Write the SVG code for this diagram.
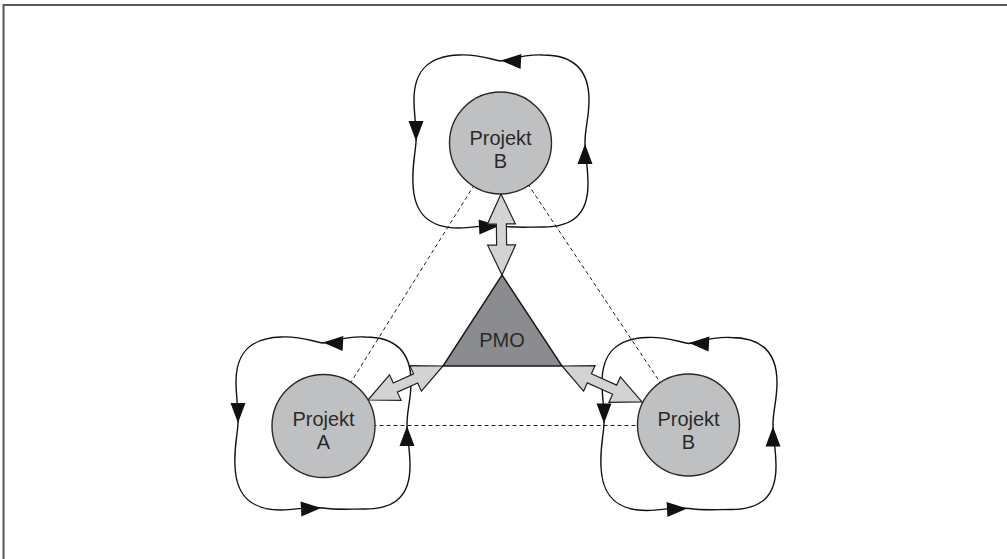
<svg xmlns="http://www.w3.org/2000/svg" xmlns:xlink="http://www.w3.org/1999/xlink" width="1007" height="559" viewBox="0 0 1007 559">
<style>
.loop{fill:none;stroke:#111;stroke-width:1.4}
.ah{fill:#111;stroke:none}
.dash{fill:none;stroke:#222;stroke-width:1;stroke-dasharray:4 3}
.blk{fill:#d2d3d5;stroke:#222;stroke-width:1.2;stroke-linejoin:miter}
.circ{fill:#bfc0c2;stroke:#2a2a2a;stroke-width:1.4}
.tri{fill:#8b8c8f;stroke:#1a1a1a;stroke-width:1.5;stroke-linejoin:miter}
.lbl{font-family:"Liberation Sans",Arial,sans-serif;font-size:20px;fill:#2a2a2a;text-anchor:middle}
</style>
<defs>
<path id="loop" class="loop" d="M0,-81 C-12,-83 -22,-88 -42,-87 C-72,-86 -87,-72 -87,-42 C-87,-26 -84,-12 -85,0 C-86,14 -89,24 -88,42 C-87,72 -72,86 -42,86 C-26,86 -14,82 0,84 C14,86 26,85 42,85 C72,85 87,72 87,42 C87,24 84,14 84,0 C84,-14 88,-24 88,-42 C88,-72 72,-87 42,-87 C22,-88 12,-83 0,-81 Z"/>
<path id="ah" class="ah" d="M0,0 L-20,-7.5 L-20,7.5 Z"/>
<g id="loopset">
<use xlink:href="#loop"/>
<use xlink:href="#ah" transform="translate(0,-81.5) rotate(183)"/>
<use xlink:href="#ah" transform="translate(-85,-1) rotate(90)"/>
<use xlink:href="#ah" transform="translate(-2,84) rotate(-3)"/>
<use xlink:href="#ah" transform="translate(84,2) rotate(-90)"/>
</g>
</defs>
<g id="frame">
<line x1="3" y1="5" x2="1007" y2="5" stroke="#222" stroke-width="1.5"/>
<line x1="3.5" y1="4.3" x2="3.5" y2="559" stroke="#555" stroke-width="2"/>
</g>
<g id="connectors">
<line class="dash" x1="500.5" y1="143" x2="323.5" y2="426"/>
<line class="dash" x1="500.5" y1="143" x2="688.5" y2="425"/>
<line class="dash" x1="323.5" y1="425.5" x2="688.5" y2="425.5"/>
<g id="loops">
<use xlink:href="#loopset" transform="translate(501,142)"/>
<use xlink:href="#loopset" transform="translate(323,424)"/>
<use xlink:href="#loopset" transform="translate(689,424.5)"/>
</g>
<g id="block-arrows">
<polygon class="blk" transform="translate(501,194) rotate(89.3)" points="0,0 30,-14 30,-5 51,-5 51,-14 81,0 51,14 51,5 30,5 30,14"/>
<polygon class="blk" transform="translate(368,400) rotate(-24.4)" points="0,0 30,-14 30,-5 52.3,-5 52.3,-14 82.3,0 52.3,14 52.3,5 30,5 30,14"/>
<polygon class="blk" transform="translate(562,366) rotate(24.2)" points="0,0 30,-14 30,-5 57.7,-5 57.7,-14 87.7,0 57.7,14 57.7,5 30,5 30,14"/>
</g>
</g>
<g id="pmo">
<polygon class="tri" points="502,275 562,366 443,366"/>
<text class="lbl" x="502" y="347">PMO</text>
</g>
<g id="projekt-b-top">
<circle class="circ" cx="500.5" cy="143" r="51"/>
<text class="lbl" x="500.5" y="145">Projekt</text>
<text class="lbl" x="500.5" y="168">B</text>
</g>
<g id="projekt-a">
<circle class="circ" cx="323.5" cy="426" r="51.5"/>
<text class="lbl" x="323.5" y="426">Projekt</text>
<text class="lbl" x="323.5" y="449">A</text>
</g>
<g id="projekt-b-right">
<circle class="circ" cx="688.5" cy="425" r="51"/>
<text class="lbl" x="688.5" y="426">Projekt</text>
<text class="lbl" x="688.5" y="449">B</text>
</g>
</svg>
